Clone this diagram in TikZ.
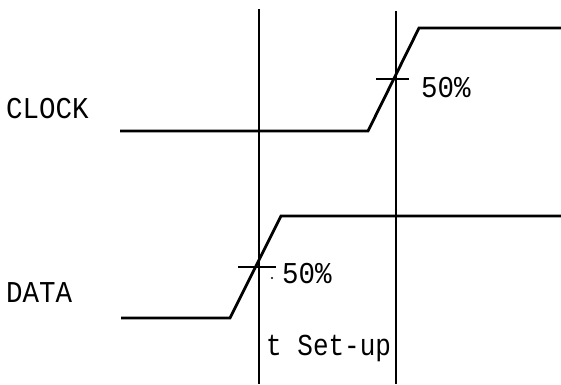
\documentclass[tikz,border=0pt]{standalone}
\usepackage{fontspec}
\newfontfamily\plotfont{Liberation Mono}
\begin{document}
\begin{tikzpicture}[x=1pt,y=-1pt,
  wave/.style={line width=2.8pt, line join=miter},
  guide/.style={line width=1.2pt},
  tickmark/.style={line width=1.3pt},
  lbl/.style={font=\plotfont\fontsize{27.5}{30}\selectfont, inner sep=0pt, anchor=base west},
  lblsmall/.style={lbl, font=\plotfont\fontsize{26}{30}\selectfont}]
\useasboundingbox (0,0) rectangle (561,384);
% clock waveform
\coordinate (c0) at (120,131);
\coordinate (c1) at (368,131);
\coordinate (c2) at (419,28);
\coordinate (c3) at (561,28);
% data waveform
\coordinate (d0) at (121,318);
\coordinate (d1) at (230,318);
\coordinate (d2) at (281,216);
\coordinate (d3) at (561,216);
% guide lines
\coordinate (g1t) at (259,9);
\coordinate (g1b) at (259,384);
\coordinate (g2t) at (396,11);
\coordinate (g2b) at (396,384);
% ticks
\coordinate (ct1) at (376,79);
\coordinate (ct2) at (409,79);
\coordinate (dt1) at (238,267);
\coordinate (dt2) at (276,267);
\coordinate (dot) at (272,278);

\draw[guide] (g1t) -- (g1b);
\draw[guide] (g2t) -- (g2b);
\draw[wave] (c0) -- (c1) -- (c2) -- (c3);
\draw[wave] (d0) -- (d1) -- (d2) -- (d3);
\draw[tickmark] (ct1) -- (ct2);
\draw[tickmark] (dt1) -- (dt2);
\fill (dot) circle (1.1pt);

\node[lbl] (clk) at (6,118) {\scalebox{1}[1.1]{CLOCK}};
\node[lbl] (dat) at (6,302) {\scalebox{1}[1.1]{DATA}};
\node[lbl] (cp) at (421,97) {\scalebox{1}[1.1]{50\%}};
\node[lbl] (dp) at (282,283) {\scalebox{1}[1.1]{50\%}};
\node[lblsmall] (ts) at (266,355) {\scalebox{1}[1.17]{t Set-up}};
\end{tikzpicture}
\end{document}
